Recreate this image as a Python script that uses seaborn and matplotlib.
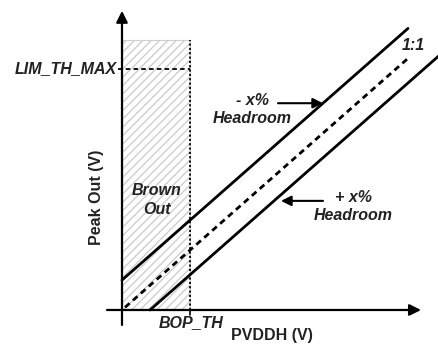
import matplotlib
matplotlib.use("Agg")
import matplotlib.pyplot as plt
from matplotlib.patches import Rectangle
import pandas as pd
import seaborn as sns

# Transfer curves: PVDDH (V) vs peak output (V), normalised units
ideal_x = [0.3, 28.8]
ideal_y = [0.3, 28.8]
minus_x = [0.0, 28.6]
minus_y = [3.4, 32.0]
plus_x = [2.8, 32.5]
plus_y = [0.0, 29.7]

bop_th = 6.8          # brown-out threshold on PVDDH
lim_th_max = 27.4     # limiter threshold maximum on peak out
brown_top = 30.7      # top of the brown-out band

sns.set_style("white")
plt.rcParams["font.family"] = ["Liberation Sans", "DejaVu Sans"]

fig = plt.figure(figsize=(4.38, 3.45), dpi=100)
ax = fig.add_axes([0, 0, 1, 1])
ax.set_xlim(-12.2, 31.6)
ax.set_ylim(-3.98, 35.23)
ax.axis("off")

df = pd.concat([
    pd.DataFrame({"x": minus_x, "y": minus_y, "curve": "minus"}),
    pd.DataFrame({"x": ideal_x, "y": ideal_y, "curve": "ideal"}),
    pd.DataFrame({"x": plus_x, "y": plus_y, "curve": "plus"}),
])

# Brown-out band
ax.add_patch(Rectangle((0, 0), bop_th, brown_top, facecolor="none",
                       edgecolor="#cfcfcf", hatch="////", lw=0.8, zorder=1))
ax.plot([bop_th, bop_th], [0, brown_top], color="black", lw=1.3,
        ls=(0, (1.2, 1.2)), zorder=3)
ax.plot([-0.4, bop_th], [lim_th_max, lim_th_max], color="black", lw=1.3,
        ls=(0, (2.5, 1.8)), zorder=3)
ax.plot([bop_th, bop_th], [0, -0.6], color="black", lw=1.2, zorder=3)

sns.lineplot(data=df, x="x", y="y", hue="curve", style="curve",
             palette={"minus": "black", "ideal": "black", "plus": "black"},
             dashes={"minus": "", "ideal": (2.2, 1.6), "plus": ""},
             linewidth=2.0, legend=False, ax=ax, zorder=4, sort=False,
             estimator=None)

# Axes with arrow heads
ax.annotate("", xy=(29.9, 0), xytext=(-1.5, 0),
            arrowprops=dict(arrowstyle="-|>", lw=1.6, color="black",
                            mutation_scale=17, shrinkA=0, shrinkB=0), zorder=5)
ax.annotate("", xy=(0, 34.0), xytext=(0, -1.7),
            arrowprops=dict(arrowstyle="-|>", lw=1.6, color="black",
                            mutation_scale=17, shrinkA=0, shrinkB=0), zorder=5)

fs = 11.5
bi = dict(fontsize=fs, fontweight="bold", fontstyle="italic", color="#222222")
ax.text(-0.5, lim_th_max, "LIM_TH_MAX", ha="right", va="center", **bi)
ax.text(bop_th + 0.1, -1.4, "BOP_TH", ha="center", va="center", **bi)
ax.text(3.5, 12.5, "Brown\nOut", ha="center", va="center",
        linespacing=1.3, **bi)
ax.text(29.1, 30.1, "1:1", ha="center", va="center", **bi)
ax.text(13.0, 22.8, "- x%\nHeadroom", ha="center", va="center",
        linespacing=1.25, **bi)
ax.text(23.1, 11.8, "+ x%\nHeadroom", ha="center", va="center",
        linespacing=1.25, **bi)

ax.annotate("", xy=(20.1, 23.5), xytext=(15.6, 23.5),
            arrowprops=dict(arrowstyle="-|>", lw=1.5, color="black",
                            mutation_scale=15, shrinkA=0, shrinkB=0))
ax.annotate("", xy=(15.9, 12.4), xytext=(20.1, 12.4),
            arrowprops=dict(arrowstyle="-|>", lw=1.5, color="black",
                            mutation_scale=15, shrinkA=0, shrinkB=0))

ax.text(15.0, -2.85, "PVDDH (V)", ha="center", va="center",
        fontsize=fs, fontweight="bold", color="#222222")
ax.text(-2.5, 12.8, "Peak Out (V)", ha="center", va="center", rotation=90,
        fontsize=fs, fontweight="bold", color="#222222")

fig.savefig("out.png", dpi=100)
